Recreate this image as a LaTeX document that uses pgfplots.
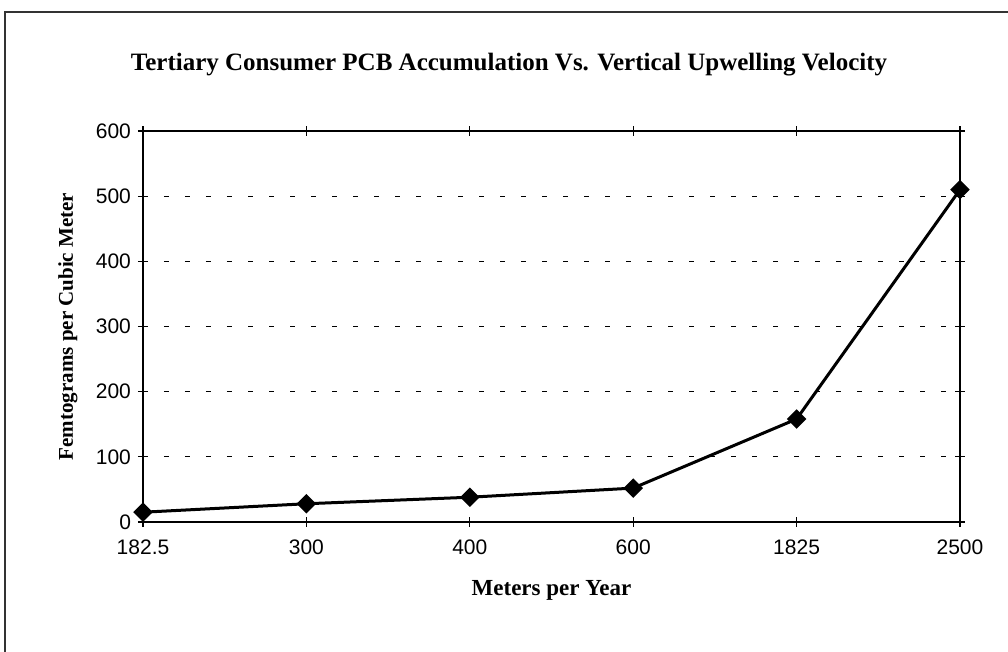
\documentclass[border=0pt]{standalone}
\usepackage{fontspec}
\setmainfont{Liberation Serif}
\newfontfamily\sansf{Liberation Sans}
\usepackage{pgfplots}
\pgfplotsset{compat=1.18}

\begin{document}
\begin{tikzpicture}
\useasboundingbox (0pt,0pt) rectangle (504pt,326pt);
% outer chart frame (scan shows top and left edges)
\draw[black!80,line width=1pt] (2.5pt,0pt) -- (2.5pt,320pt) -- (504pt,320pt);
\begin{axis}[
  at={(71.5pt,65pt)},anchor=south west,
  scale only axis,width=408.5pt,height=195.5pt,
  xmin=0,xmax=5,ymin=0,ymax=600,
  xtick={0,1,2,3,4,5},
  xticklabels={182.5,300,400,600,1825,2500},
  ytick={0,100,...,600},
  axis line style={black,line width=0.7pt},
  tick style={black,line width=0.6pt},
  tick align=center,major tick length=5pt,
  ymajorgrids=true,
  grid style={black,line width=0.5pt,dash pattern=on 2.5pt off 8pt},
  /pgf/number format/assume math mode=true,
  tick label style={font=\sansf\fontsize{10.5}{12}\selectfont},
  xticklabel style={yshift=-3pt},
  title={Tertiary Consumer PCB Accumulation Vs. Vertical Upwelling Velocity},
  title style={at={(axis description cs:0.448,1.138)},anchor=center,yshift=0pt,
    font=\bfseries\fontsize{12.5}{14}\selectfont},
  xlabel={Meters per Year},
  xlabel style={at={(axis description cs:0.5,-0.174)},anchor=center,
    font=\bfseries\fontsize{11.5}{13}\selectfont},
  ylabel={Femtograms per Cubic Meter},
  ylabel style={at={(axis description cs:-0.092,0.5)},anchor=center,rotate=0,
    font=\bfseries\fontsize{10.5}{12}\selectfont},
  clip=false,
]
\addplot[black,line width=1.5pt,mark=square*,
  mark options={rotate=45,solid,mark size=2.7pt}] coordinates {
  (0,15) (1,28) (2,38) (3,52) (4,158) (5,510)
};
\end{axis}
\end{tikzpicture}
\end{document}
